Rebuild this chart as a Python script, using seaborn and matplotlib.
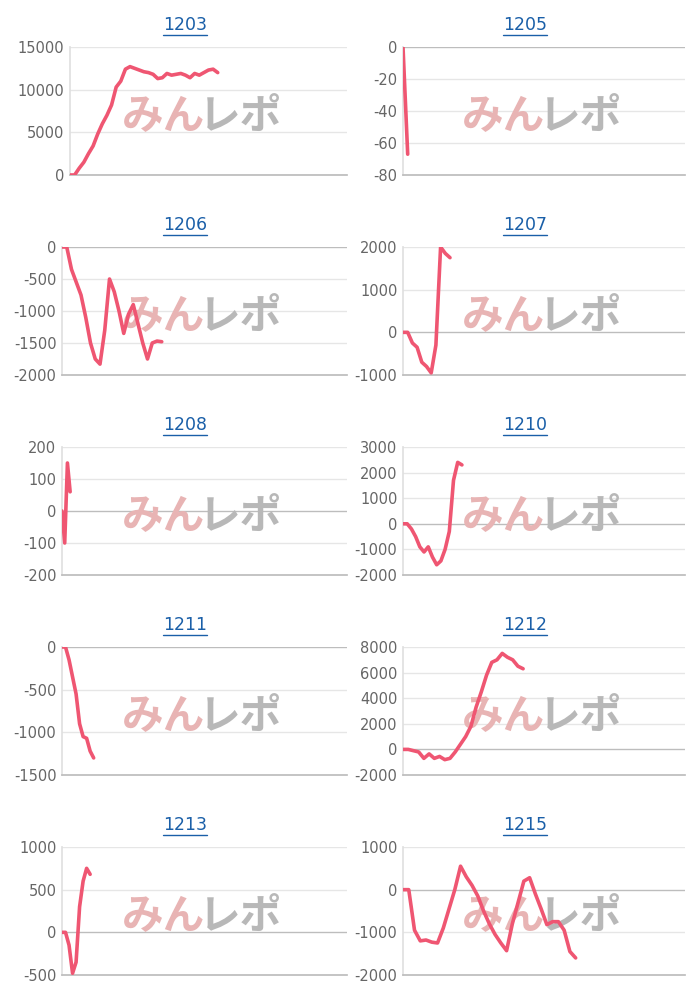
import matplotlib
matplotlib.use("Agg")
import matplotlib.pyplot as plt
import seaborn as sns
import pandas as pd
import numpy as np
from matplotlib.lines import Line2D

sns.set_theme(style="white")
plt.rcParams['font.family'] = ['DejaVu Sans', 'Noto Sans CJK JP']

titles = ["1203", "1205", "1206", "1207", "1208", "1210", "1211", "1212", "1213", "1215"]
v1203 = [0, 0, 800, 1500, 2500, 3400, 4800, 6000, 7000, 8200, 10300, 11000, 12400, 12700, 12500, 12300,
         12100, 12000, 11800, 11300, 11400, 11900, 11700, 11800, 11900, 11700, 11400, 11900, 11700, 12000,
         12300, 12400, 12000]
v1205 = [0, -67]
v1206 = [0, 0, -350, -550, -750, -1100, -1500, -1750, -1830, -1300, -500, -700, -1000, -1350, -1050,
         -900, -1200, -1500, -1750, -1500, -1470, -1480]
v1207 = [0, 0, -250, -350, -700, -800, -950, -300, 2000, 1850, 1750]
v1208 = [0, -100, 150, 60]
v1210 = [0, 0, -200, -500, -900, -1100, -900, -1300, -1600, -1450, -1000, -300, 1700, 2400, 2300]
v1211 = [0, 0, -150, -350, -550, -900, -1050, -1070, -1220, -1300]
v1212 = [0, 0, -100, -200, -700, -350, -700, -550, -800, -700, -200, 400, 1000, 1800, 3300, 4500, 5800,
         6800, 7000, 7500, 7200, 7000, 6500, 6300]
v1213 = [0, 0, -150, -480, -350, 300, 600, 750, 680]
v1215 = [0, 0, -950, -1200, -1180, -1230, -1250, -900, -450, 0, 550, 300, 100, -150, -500, -800, -1050,
         -1250, -1430, -800, -300, 200, 280, -100, -450, -820, -750, -750, -950, -1450, -1600]
series = [v1203, v1205, v1206, v1207, v1208, v1210, v1211, v1212, v1213, v1215]
nslots = [60, 60, 60, 60, 105, 67, 81, 54, 81, 49]
yticks = [(0, 15000, 5000), (-80, 0, 20), (-2000, 0, 500), (-1000, 2000, 1000), (-200, 200, 100),
          (-2000, 3000, 1000), (-1500, 0, 500), (-2000, 8000, 2000), (-500, 1000, 500), (-2000, 1000, 1000)]

W, H = 700, 1000
fig = plt.figure(figsize=(7, 10), dpi=100)
lefts = [(70, 347), (403, 685)]
lefts_alt = {2: 62, 4: 62, 6: 62, 8: 62}
for i, (t, vals) in enumerate(zip(titles, series)):
    r, c = divmod(i, 2)
    x0, x1 = lefts[c]
    if i in lefts_alt:
        x0 = lefts_alt[i]
    top = 47 + 200 * r
    bot = 175 + 200 * r
    ax = fig.add_axes([x0 / W, 1 - bot / H, (x1 - x0) / W, (bot - top) / H])
    df = pd.DataFrame({"x": np.arange(len(vals)), "y": vals})
    lo, hi, st = yticks[i]
    ticks = np.arange(lo, hi + st, st)
    for tk in ticks:
        ax.axhline(tk, color="#bdbdbd" if tk == 0 else "#e6e6e6", lw=1, zorder=0)
    sns.lineplot(data=df, x="x", y="y", ax=ax, color="#ef5672", lw=2.6, zorder=3)
    ax.set_xlim(0, nslots[i])
    ax.set_ylim(lo, hi)
    ax.set_yticks(ticks)
    ax.set_yticklabels([str(int(v)) for v in ticks], color="#666666", fontsize=10.5)
    ax.set_xticks([])
    ax.set_xlabel("")
    ax.set_ylabel("")
    ax.tick_params(axis="y", length=0, pad=4)
    for s in ["top", "right"]:
        ax.spines[s].set_visible(False)
    ax.spines["left"].set_color("#e0e0e0")
    ax.spines["bottom"].set_color("#bdbdbd")
    # watermark (centered at ~x=200 / 540 px)
    wx = (202 - x0) / (x1 - x0) if c == 0 else (542 - x0) / (x1 - x0)
    ax.text(wx + 0.01, 0.45, "みん", transform=ax.transAxes, fontsize=30, fontweight="bold", style="italic",
            color="#e8b4b4", family=["Noto Sans CJK JP"], ha="right", va="center", zorder=1)
    ax.text(wx - 0.01, 0.45, "レポ", transform=ax.transAxes, fontsize=30, fontweight="bold", style="italic",
            color="#b8b8b8", family=["Noto Sans CJK JP"], ha="left", va="center", zorder=1)
    # title with underline
    cx = 185 if c == 0 else 525
    ty = 25 + 200 * r
    fig.text(cx / W, 1 - ty / H, t, color="#1a5fa8", fontsize=12.5, ha="center", va="center")
    fig.add_artist(Line2D([(cx - 22) / W, (cx + 22) / W], [1 - (ty + 10) / H] * 2, color="#1a5fa8", lw=1))

fig.savefig("out.png", dpi=100, facecolor="white")
